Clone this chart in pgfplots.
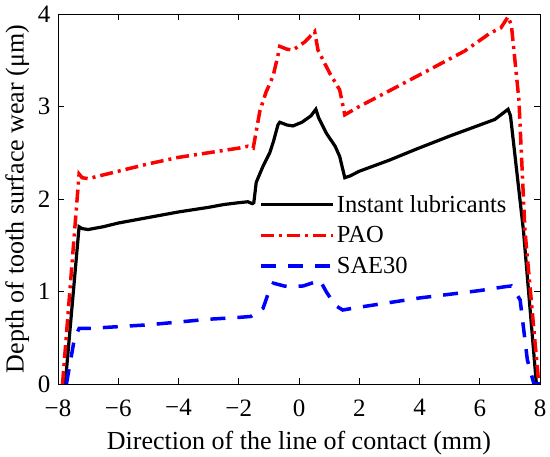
\documentclass[border=0pt]{standalone}
\usepackage{fontspec}
\setmainfont{Liberation Serif}
\usepackage{pgfplots}
\pgfplotsset{compat=1.18}
\usetikzlibrary{calc}
\begin{document}
\begin{tikzpicture}
\begin{axis}[
  name=ax,
  width=482pt, height=370pt, scale only axis,
  xmin=-8, xmax=8, ymin=0, ymax=4,
  xtick={-8,-6,-4,-2,0,2,4,6,8},
  xticklabels={−8,−6,−4,−2,0,2,4,6,8},
  ytick={0,1,2,3,4},
  /pgf/number format/assume math mode=true,
  tick align=inside,
  major tick length=6pt,
  tick style={black, line width=0.7pt},
  axis line style={black, line width=0.8pt},
  ticklabel style={font=\fontsize{25}{28}\selectfont},
  xticklabel style={yshift=-12pt},
  yticklabel style={xshift=-4pt},
  xlabel={Direction of the line of contact (mm)},
  ylabel={Depth of tooth surface wear (μm)},
  label style={font=\fontsize{26}{30}\selectfont},
  xlabel style={yshift=-8pt},
  ylabel style={yshift=2pt},
  legend image code/.code={\draw[#1] (0pt,0pt) -- (72pt,0pt);},
  legend style={at={(axis cs:-1.42,1.61)}, anchor=west, draw=none, fill=none,
    font=\fontsize{24.5}{28}\selectfont, row sep=9pt},
  legend cell align=left,
]
\addplot[black, line width=3.2pt] coordinates {
(-7.76,0) (-7.3,1.70) (-7.2,1.68) (-7,1.67) (-6.5,1.70) (-6,1.74) (-5,1.80) (-4,1.86) (-3,1.91) (-2.5,1.94) (-2,1.96) (-1.7,1.97) (-1.55,1.95) (-1.5,1.96) (-1.42,2.18) (-1.2,2.35) (-0.97,2.50) (-0.85,2.62) (-0.7,2.80) (-0.64,2.83) (-0.4,2.80) (-0.2,2.79) (0.1,2.83) (0.4,2.90) (0.56,2.97) (0.65,2.88) (0.91,2.71) (1.2,2.57) (1.35,2.46) (1.52,2.23) (1.7,2.25) (2,2.30) (3,2.42) (3.9,2.54) (5,2.68) (6,2.80) (6.5,2.86) (6.94,2.97) (7.02,2.90) (7.45,1.66) (7.88,0)
};
\addlegendentry{Instant lubricants}
\addplot[red, line width=3.5pt, dash pattern=on 13pt off 5pt on 3pt off 5pt] coordinates {
(-7.85,0) (-7.3,2.27) (-7.2,2.23) (-7,2.22) (-6.5,2.26) (-6,2.30) (-5,2.38) (-4,2.45) (-3,2.50) (-2,2.55) (-1.7,2.57) (-1.52,2.55) (-1.3,2.95) (-1.1,3.15) (-0.86,3.33) (-0.7,3.55) (-0.64,3.65) (-0.4,3.62) (-0.2,3.61) (0.2,3.70) (0.52,3.81) (0.63,3.61) (0.8,3.50) (1.02,3.36) (1.35,3.18) (1.52,2.91) (2,3.00) (3,3.17) (4.34,3.40) (5.5,3.60) (6.33,3.79) (6.7,3.85) (6.94,3.97) (7.05,3.88) (7.3,3.07) (7.5,1.66) (7.96,0)
};
\addlegendentry{PAO}
\addplot[blue, line width=3.5pt, dash pattern=on 15pt off 12pt] coordinates {
(-7.72,0) (-7.45,0.50) (-7.3,0.60) (-7,0.60) (-6,0.62) (-5,0.64) (-4,0.67) (-3,0.70) (-2,0.72) (-1.6,0.73) (-1.19,0.82) (-1.0,1.00) (-0.85,1.09) (-0.5,1.06) (-0.3,1.05) (0.14,1.06) (0.7,1.12) (0.9,1.00) (1.2,0.85) (1.45,0.80) (2,0.83) (3,0.88) (4,0.93) (5,0.97) (6,1.01) (6.8,1.05) (7.05,1.06) (7.34,0.91) (7.58,0.26) (7.8,0) (8,0)
};
\addlegendentry{SAE30}
\end{axis}
\pgfresetboundingbox
\path ($(ax.south west)+(-58pt,-73pt)$) rectangle ($(ax.north east)+(10pt,14pt)$);
\end{tikzpicture}
\end{document}
